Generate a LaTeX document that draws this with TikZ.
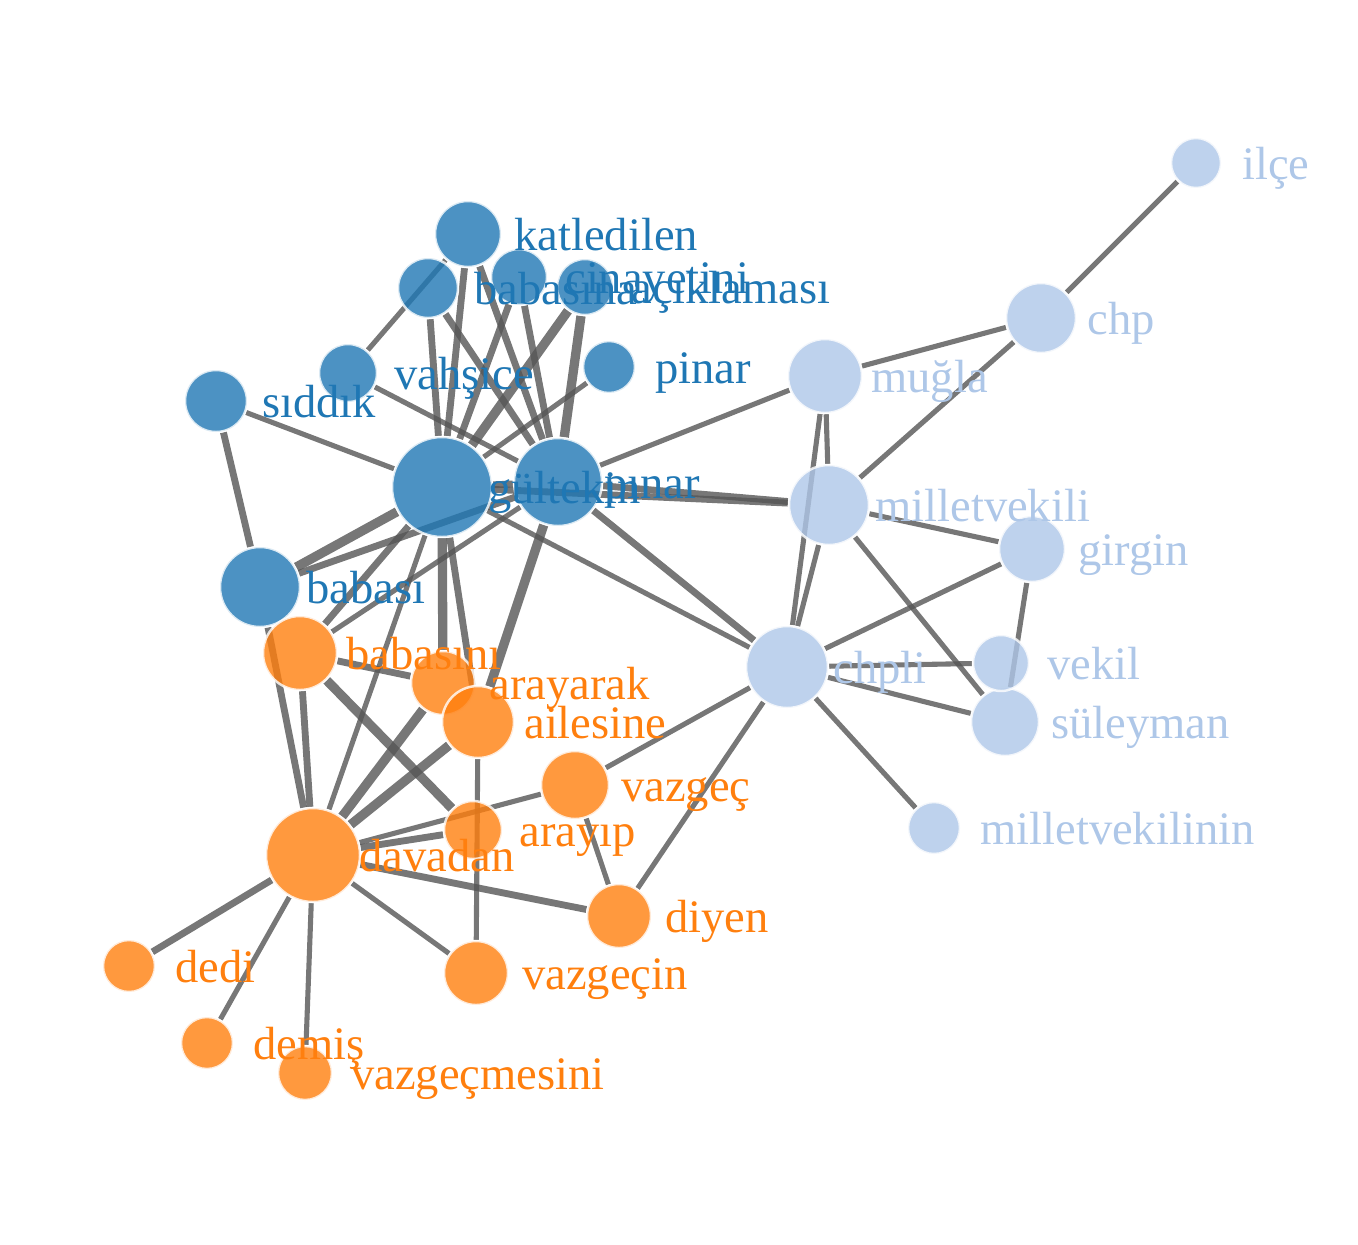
\documentclass[tikz,border=0pt]{standalone}
\usepackage{fontspec}
\setmainfont{Liberation Serif}
\usetikzlibrary{calc, backgrounds}
\definecolor{WordBlue}{HTML}{1F77B4}
\definecolor{WordOrange}{HTML}{FF7F0E}
\definecolor{WordLight}{HTML}{AEC7E8}
\definecolor{LinkGray}{HTML}{555555}
\tikzset{
  word/.style={circle, inner sep=0pt, draw=white, line width=1.4pt, fill opacity=0.8, draw opacity=0.8},
  blueword/.style={word, fill=WordBlue, minimum size=#1*0.4mm},
  orangeword/.style={word, fill=WordOrange, minimum size=#1*0.4mm},
  lightword/.style={word, fill=WordLight, minimum size=#1*0.4mm},
  wordlabel/.style={anchor=base west, inner sep=0pt, font=\fontsize{26.5pt}{30pt}\selectfont},
  bluelabel/.style={wordlabel, text=WordBlue},
  orangelabel/.style={wordlabel, text=WordOrange},
  lightlabel/.style={wordlabel, text=WordLight},
  link/.style={draw=LinkGray, draw opacity=0.8, line width=2.9pt},
  midlink/.style={link, line width=3.9pt},
  heavylink/.style={link, line width=5.3pt}
}

\begin{document}
\begin{tikzpicture}[x=0.02cm, y=-0.02cm]
\useasboundingbox (0,0) rectangle (1358,1244);

% word circles
\node[blueword=33] (katledilen) at (468,234) {};
\node[blueword=30] (babasina) at (428,288) {};
\node[blueword=28] (cinayetini) at (519,277) {};
\node[blueword=28] (aciklamasi) at (585,287) {};
\node[blueword=29] (vahsice) at (348,373) {};
\node[blueword=26] (pinarsmall) at (609,367) {};
\node[blueword=31] (siddik) at (216,401) {};
\node[blueword=50] (gultekin) at (442,487) {};
\node[blueword=44] (pinar) at (558,482) {};
\node[blueword=40] (babasi) at (260,587) {};

\node[orangeword=37] (babasini) at (300,653) {};
\node[orangeword=32] (arayarak) at (443,683) {};
\node[orangeword=36] (ailesine) at (478,722) {};
\node[orangeword=34] (vazgec) at (575,785) {};
\node[orangeword=29] (arayip) at (473,830) {};
\node[orangeword=47] (davadan) at (313,855) {};
\node[orangeword=32] (diyen) at (619,916) {};
\node[orangeword=26] (dedi) at (129,966) {};
\node[orangeword=32] (vazgecin) at (476,973) {};
\node[orangeword=26] (demis) at (207,1043) {};
\node[orangeword=27] (vazgecmesini) at (305,1073) {};

\node[lightword=25] (ilce) at (1196,163) {};
\node[lightword=35] (chp) at (1041,318) {};
\node[lightword=37] (mugla) at (825,376) {};
\node[lightword=40] (milletvekili) at (829,505) {};
\node[lightword=33] (girgin) at (1032,549) {};
\node[lightword=41] (chpli) at (787,667) {};
\node[lightword=34] (suleyman) at (1005,722) {};
\node[lightword=28] (vekil) at (1001,663) {};
\node[lightword=26] (milletvekilinin) at (934,828) {};

% labels
\node[bluelabel] (katledilen-lbl) at ($(katledilen)+(46,16)$) {katledilen};
\node[bluelabel] (babasina-lbl) at ($(babasina)+(46,16)$) {babasına};
\node[bluelabel] (cinayetini-lbl) at ($(cinayetini)+(46,16)$) {cinayetini};
\node[bluelabel] (aciklamasi-lbl) at ($(aciklamasi)+(46,16)$) {açıklaması};
\node[bluelabel] (vahsice-lbl) at ($(vahsice)+(46,16)$) {vahşice};
\node[bluelabel] (pinarsmall-lbl) at ($(pinarsmall)+(46,16)$) {pinar};
\node[bluelabel] (siddik-lbl) at ($(siddik)+(46,16)$) {sıddık};
\node[bluelabel] (gultekin-lbl) at ($(gultekin)+(46,16)$) {gültekin};
\node[bluelabel] (pinar-lbl) at ($(pinar)+(46,16)$) {pınar};
\node[bluelabel] (babasi-lbl) at ($(babasi)+(46,16)$) {babası};

\node[orangelabel] (babasini-lbl) at ($(babasini)+(46,16)$) {babasını};
\node[orangelabel] (arayarak-lbl) at ($(arayarak)+(46,16)$) {arayarak};
\node[orangelabel] (ailesine-lbl) at ($(ailesine)+(46,16)$) {ailesine};
\node[orangelabel] (vazgec-lbl) at ($(vazgec)+(46,16)$) {vazgeç};
\node[orangelabel] (arayip-lbl) at ($(arayip)+(46,16)$) {arayıp};
\node[orangelabel] (davadan-lbl) at ($(davadan)+(46,16)$) {davadan};
\node[orangelabel] (diyen-lbl) at ($(diyen)+(46,16)$) {diyen};
\node[orangelabel] (dedi-lbl) at ($(dedi)+(46,16)$) {dedi};
\node[orangelabel] (vazgecin-lbl) at ($(vazgecin)+(46,16)$) {vazgeçin};
\node[orangelabel] (demis-lbl) at ($(demis)+(46,16)$) {demiş};
\node[orangelabel] (vazgecmesini-lbl) at ($(vazgecmesini)+(46,16)$) {vazgeçmesini};

\node[lightlabel] (ilce-lbl) at ($(ilce)+(46,16)$) {ilçe};
\node[lightlabel] (chp-lbl) at ($(chp)+(46,16)$) {chp};
\node[lightlabel] (mugla-lbl) at ($(mugla)+(46,16)$) {muğla};
\node[lightlabel] (milletvekili-lbl) at ($(milletvekili)+(46,16)$) {milletvekili};
\node[lightlabel] (girgin-lbl) at ($(girgin)+(46,16)$) {girgin};
\node[lightlabel] (chpli-lbl) at ($(chpli)+(46,16)$) {chpli};
\node[lightlabel] (suleyman-lbl) at ($(suleyman)+(46,16)$) {süleyman};
\node[lightlabel] (vekil-lbl) at ($(vekil)+(46,16)$) {vekil};
\node[lightlabel] (milletvekilinin-lbl) at ($(milletvekilinin)+(46,16)$) {milletvekilinin};

% links, behind the circles
\begin{scope}[on background layer]
\draw[link] (vahsice) -- (katledilen);
\draw[midlink] (babasina) -- (gultekin);
\draw[midlink] (babasina) -- (pinar);
\draw[midlink] (katledilen) -- (gultekin);
\draw[midlink] (katledilen) -- (pinar);
\draw[midlink] (cinayetini) -- (gultekin);
\draw[midlink] (cinayetini) -- (pinar);
\draw[heavylink] (aciklamasi) -- (gultekin);
\draw[heavylink] (aciklamasi) -- (pinar);
\draw[link] (pinarsmall) -- (gultekin);
\draw[link] (vahsice) -- (pinar);
\draw[link] (siddik) -- (gultekin);
\draw[midlink] (siddik) -- (babasi);
\draw[midlink] (gultekin) -- (pinar);
\draw[midlink] (gultekin) -- (milletvekili);
\draw[midlink] (pinar) -- (milletvekili);
\draw[link] (pinar) -- (mugla);
\draw[link] (gultekin) -- (chpli);
\draw[midlink] (pinar) -- (chpli);
\draw[heavylink] (gultekin) -- (babasi);
\draw[midlink] (pinar) -- (babasi);
\draw[midlink] (gultekin) -- (babasini);
\draw[link] (pinar) -- (babasini);
\draw[link] (gultekin) -- (davadan);
\draw[heavylink] (gultekin) -- (arayarak);
\draw[midlink] (gultekin) -- (ailesine);
\draw[heavylink] (pinar) -- (ailesine);

\draw[midlink] (babasi) -- (davadan);
\draw[midlink] (babasini) -- (davadan);
\draw[midlink] (babasini) -- (arayarak);
\draw[heavylink] (babasini) -- (arayip);
\draw[heavylink] (davadan) -- (arayarak);
\draw[heavylink] (davadan) -- (ailesine);
\draw[link] (ailesine) -- (vazgecin);
\draw[link] (davadan) -- (vazgec);
\draw[midlink] (davadan) -- (arayip);
\draw[midlink] (davadan) -- (diyen);
\draw[link] (vazgec) -- (diyen);
\draw[link] (vazgec) -- (chpli);
\draw[link] (diyen) -- (chpli);
\draw[midlink] (davadan) -- (dedi);
\draw[link] (davadan) -- (demis);
\draw[link] (davadan) -- (vazgecmesini);
\draw[link] (davadan) -- (vazgecin);

\draw[link] (ilce) -- (chp);
\draw[link] (chp) -- (mugla);
\draw[link] (chp) -- (milletvekili);
\draw[link] (mugla) -- (milletvekili);
\draw[link] (mugla) -- (chpli);
\draw[link] (milletvekili) -- (chpli);
\draw[link] (milletvekili) -- (girgin);
\draw[link] (milletvekili) -- (suleyman);
\draw[link] (girgin) -- (chpli);
\draw[link] (girgin) -- (suleyman);
\draw[link] (chpli) -- (vekil);
\draw[link] (chpli) -- (suleyman);
\draw[link] (chpli) -- (milletvekilinin);
\end{scope}
\end{tikzpicture}
\end{document}
